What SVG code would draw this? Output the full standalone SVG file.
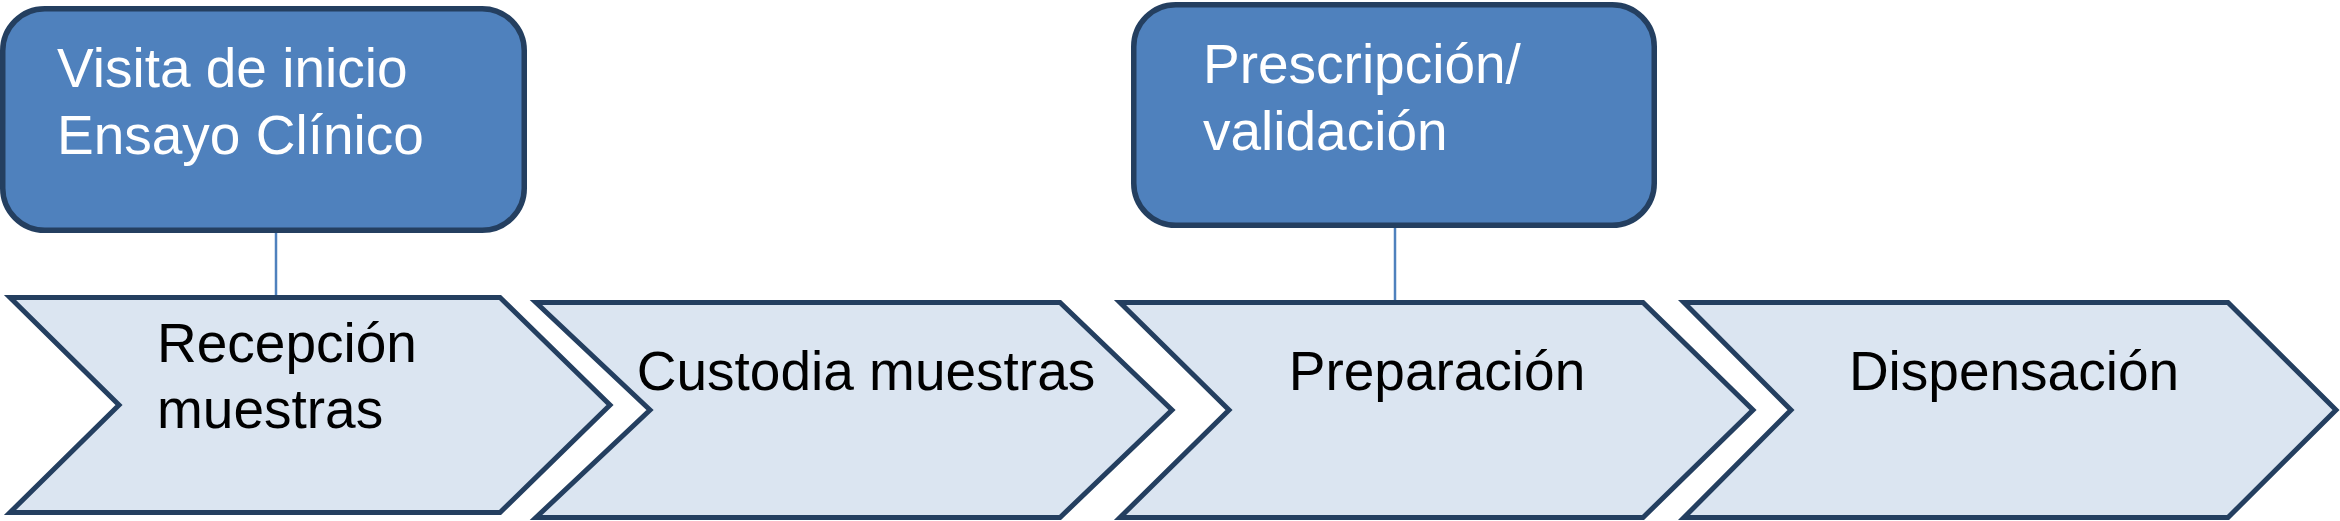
<svg xmlns="http://www.w3.org/2000/svg" width="2340" height="521" viewBox="0 0 2340 521">
<style>
.box{fill:#4f81bd;stroke:#243f60;stroke-width:5.5}
.chev{fill:#dbe5f1;stroke:#243f60;stroke-width:5;stroke-linejoin:miter}
.conn{stroke:#4f81bd;stroke-width:2.5;fill:none}
.tw{font-family:"Liberation Sans",Arial,sans-serif;font-size:55px;fill:#ffffff}
.tb{font-family:"Liberation Sans",Arial,sans-serif;font-size:55px;fill:#000000}
</style>
<rect width="2340" height="521" fill="#ffffff"/>
<g id="connectors">
<line class="conn" x1="276" y1="233" x2="276" y2="295"/>
<line class="conn" x1="1395" y1="228" x2="1395" y2="300"/>
</g>
<g id="node-visita">
<rect class="box" x="2.75" y="8.75" width="521.5" height="221.5" rx="42" ry="42"/>
<text class="tw" x="57" y="87">Visita de inicio</text>
<text class="tw" x="57" y="154">Ensayo Clínico</text>
</g>
<g id="node-prescripcion">
<rect class="box" x="1133.75" y="4.75" width="520.5" height="220.5" rx="42" ry="42"/>
<text class="tw" x="1203" y="83">Prescripción/</text>
<text class="tw" x="1203" y="150">validación</text>
</g>
<g id="node-recepcion">
<path class="chev" d="M10,297.5 L500,297.5 L610,405 L500,512.5 L10,512.5 L119,405 Z"/>
<text class="tb" x="157" y="362">Recepción</text>
<text class="tb" x="157" y="428">muestras</text>
</g>
<g id="node-custodia">
<path class="chev" d="M536,302.5 L1060,302.5 L1172,410 L1060,517.5 L536,517.5 L650,410 Z"/>
<text class="tb" x="866" y="390" text-anchor="middle">Custodia muestras</text>
</g>
<g id="node-preparacion">
<path class="chev" d="M1120,302.5 L1643,302.5 L1753,410 L1643,517.5 L1120,517.5 L1229,410 Z"/>
<text class="tb" x="1437" y="390" text-anchor="middle">Preparación</text>
</g>
<g id="node-dispensacion">
<path class="chev" d="M1684,302.5 L2228,302.5 L2336,410 L2228,517.5 L1684,517.5 L1791,410 Z"/>
<text class="tb" x="2014" y="390" text-anchor="middle">Dispensación</text>
</g>
</svg>
